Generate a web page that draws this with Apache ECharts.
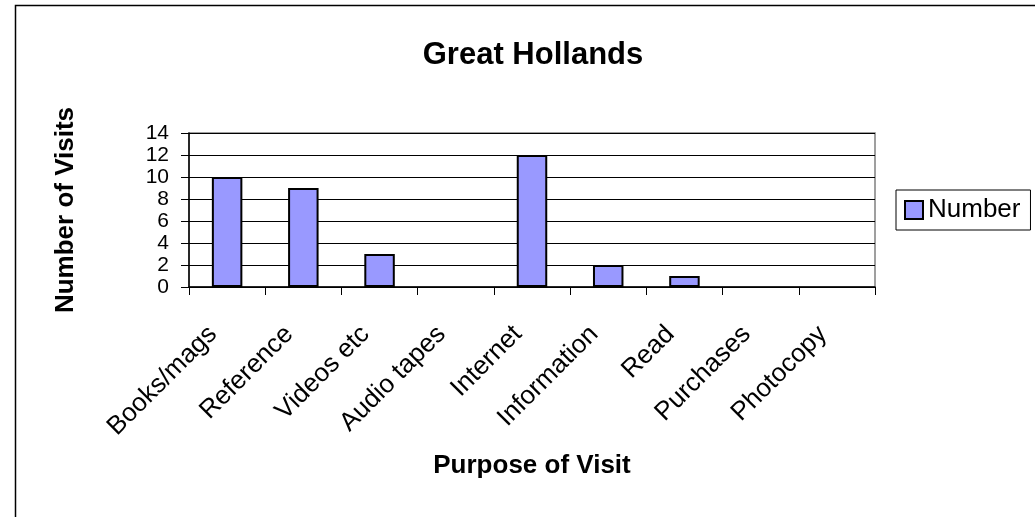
<!DOCTYPE html>
<html>
<head>
<meta charset="utf-8">
<script src="https://cdn.jsdelivr.net/npm/echarts@6/dist/echarts.min.js"></script>
<style>
  html, body { margin: 0; padding: 0; background: #fff; }
  #chart { width: 1035px; height: 517px; }
</style>
</head>
<body>
<div id="chart"></div>
<script>
const categories = ['Books/mags', 'Reference', 'Videos etc', 'Audio tapes', 'Internet', 'Information', 'Read', 'Purchases', 'Photocopy']
const visits = [10, 9, 3, 0, 12, 2, 1, 0, 0]
const seriesName = 'Number'

const chart = echarts.init(document.getElementById('chart'))
const font = 'Liberation Sans, Arial, sans-serif'

// zero values: Excel draws nothing, so drop the outline too
const barData = visits.map(v => (v === 0 ? { value: v, itemStyle: { borderWidth: 0 } } : v))

const option = {
  animation: false,
  backgroundColor: '#fff',
  title: {
    text: 'Great Hollands',
    left: 528,
    top: 35,
    textAlign: 'center',
    textStyle: { fontFamily: font, fontSize: 31, fontWeight: 'bold', color: '#000' }
  },
  legend: {
    left: 896,
    top: 190,
    orient: 'vertical',
    padding: [7, 10, 7, 8],
    borderColor: '#000',
    borderWidth: 1,
    itemWidth: 18,
    itemHeight: 18,
    icon: 'rect',
    textStyle: { fontFamily: font, fontSize: 26, color: '#000' },
    data: [seriesName]
  },
  graphic: [{
    type: 'rect',
    shape: { x: 15.5, y: 5.5, width: 1100, height: 600 },
    style: { fill: 'none', stroke: '#000', lineWidth: 1.5 },
    silent: true
  }],
  grid: { left: 189, top: 133, right: 160, bottom: 230, show: true, borderColor: '#808080', borderWidth: 1.5 },
  xAxis: {
    type: 'category',
    data: categories,
    name: 'Purpose of Visit',
    nameLocation: 'middle',
    nameGap: 166,
    nameTextStyle: { fontFamily: font, fontSize: 26, fontWeight: 'bold', color: '#000' },
    axisLine: { lineStyle: { color: '#000', width: 1.5 } },
    axisTick: { show: true, length: 8, alignWithLabel: false, lineStyle: { color: '#000' } },
    axisLabel: {
      rotate: 45, interval: 0, margin: 29, padding: [0, 20, 0, 0],
      fontFamily: font, fontSize: 26, color: '#000'
    }
  },
  yAxis: {
    type: 'value',
    min: 0,
    max: 14,
    interval: 2,
    name: 'Number of Visits',
    nameLocation: 'middle',
    nameGap: 110,
    nameRotate: 90,
    nameTextStyle: { fontFamily: font, fontSize: 26, fontWeight: 'bold', color: '#000' },
    axisLine: { show: true, lineStyle: { color: '#000', width: 1.5 } },
    axisTick: { show: true, length: 8, lineStyle: { color: '#000' } },
    axisLabel: {
      margin: 20, showMinLabel: true, showMaxLabel: true, hideOverlap: false,
      fontFamily: font, fontSize: 21, color: '#000'
    },
    splitLine: { show: true, lineStyle: { color: '#000', width: 1 } }
  },
  series: [{
    name: seriesName,
    type: 'bar',
    data: barData,
    barWidth: '40%',
    itemStyle: { color: '#9999FF', borderColor: '#000', borderWidth: 2 }
  }]
}

chart.setOption(option)
</script>
</body>
</html>
